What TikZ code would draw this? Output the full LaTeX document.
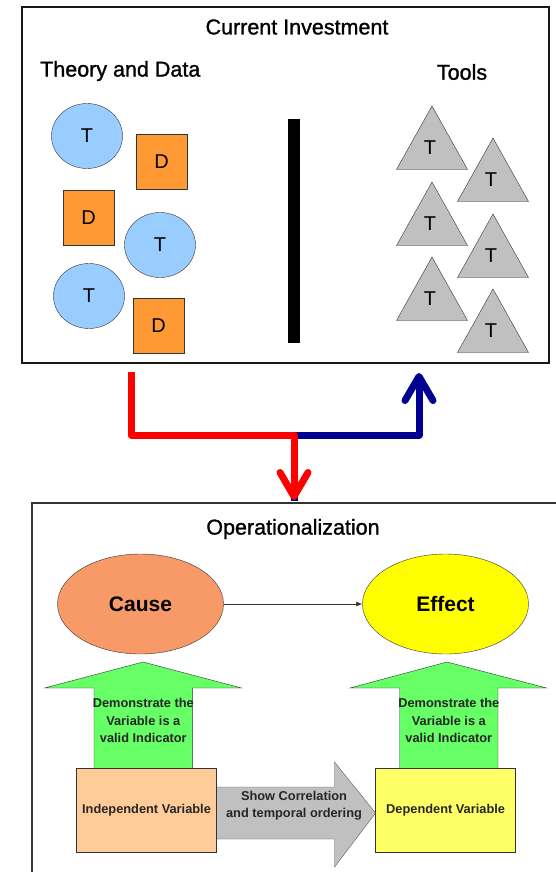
\documentclass[tikz,border=0pt]{standalone}
\usepackage{fontspec}
\setmainfont{Liberation Sans}
\newfontfamily\headfont[FakeBold=1.2]{Liberation Sans}
\usetikzlibrary{arrows.meta,shapes.geometric}
\definecolor{tblue}{HTML}{99CCFF}
\definecolor{dorange}{HTML}{FF9933}
\definecolor{trigray}{HTML}{C0C0C0}
\definecolor{causec}{HTML}{F79A68}
\definecolor{effectc}{HTML}{FFFF00}
\definecolor{greenar}{HTML}{66FF66}
\definecolor{ivc}{HTML}{FFCC99}
\definecolor{dvc}{HTML}{FFFF66}
\definecolor{navyb}{HTML}{000090}
\definecolor{edgec}{HTML}{333333}
\begin{document}
\begin{tikzpicture}[x=1pt,y=-1pt,
  bigtxt/.style={font=\headfont\fontsize{21.5}{24}\selectfont, inner sep=0pt},
  tcirc/.style={ellipse, draw=edgec, fill=tblue, minimum width=71pt, minimum height=65pt, inner sep=0pt, font=\fontsize{20}{24}\selectfont},
  dsq/.style={rectangle, draw=edgec, fill=dorange, minimum width=51pt, minimum height=55pt, inner sep=0pt, font=\fontsize{20}{24}\selectfont},
  trishape/.style={draw=edgec, fill=trigray},
  trilab/.style={font=\fontsize{20}{24}\selectfont, inner sep=0pt},
  bigline/.style={line width=7pt, line join=round, -{Straight Barb[length=24pt,width=28pt,round]}},
  oval/.style={ellipse, draw=edgec, minimum width=166pt, minimum height=100pt, inner sep=0pt, font=\bfseries\fontsize{21}{24}\selectfont},
  smalltxt/.style={font=\bfseries\fontsize{12.8}{17.5}\selectfont, align=center, inner sep=0pt, text=black!85},
  varbox/.style={rectangle, draw=edgec, minimum width=140pt, minimum height=84pt, inner sep=0pt, font=\bfseries\fontsize{12.8}{17.5}\selectfont, text=black!85}
]
\useasboundingbox (0,0) rectangle (556,872);

% ---------- top panel ----------
\node[draw=black!90, line width=1.2pt, minimum width=527pt, minimum height=356pt, inner sep=0pt] (top) at (285.5,185) {};
\node[bigtxt] (ttl) at (297,27) {Current Investment};
\node[bigtxt, anchor=west] (thd) at (40,71) {Theory and Data};
\node[bigtxt] (tools) at (462,72) {Tools};

\node[tcirc] (c1) at (87,136) {T};
\node[tcirc] (c2) at (160,245) {T};
\node[tcirc] (c3) at (89,296) {T};
\node[dsq] (s1) at (161.5,161.5) {D};
\node[dsq] (s2) at (88.5,218) {D};
\node[dsq] (s3) at (158.5,326) {D};

\fill[black] (288,119) rectangle (300,343);

\foreach \ax/\ay/\nm in {432/106/a, 493/138/b, 432/182/c, 493/214/d, 432/257/e, 493/289/f}{
  \draw[trishape] (\ax,\ay) -- ++(35.5,63.5) -- ++(-71,0) -- cycle;
  \node[trilab] (tl\nm) at (\ax-2,\ay+42) {T};
}

% ---------- connectors ----------
\coordinate (rA) at (131,372);
\coordinate (jn) at (294,435);
\coordinate (rB) at (294,500);
\coordinate (bS) at (294,501);
\coordinate (bE) at (419,373);
\draw[navyb, line width=7pt, line join=round] (bS) -- (jn);
\draw[navyb, bigline] (jn) -| (bE);
\draw[red, bigline] (rA) |- (jn) -- (rB);

% ---------- bottom panel ----------
\draw[edgec, line width=1.3pt] (560,503) -- (32,503) -- (32,876);
\node[bigtxt] (op) at (293,529) {Operationalization};

\node[oval, fill=causec] (cause) at (140.5,604) {Cause};
\node[oval, fill=effectc] (effect) at (445.5,604) {Effect};
\draw[edgec, line width=0.8pt, -{Latex[length=6pt,width=5pt]}] (cause) -- (effect);

% green arrows
\draw[edgec, fill=greenar, line join=miter] (94,770) -- (94,688) -- (44.6,688) -- (143,662) -- (241.5,688) -- (192.6,688) -- (192.6,770);
\draw[edgec, fill=greenar, line join=miter] (399.5,770) -- (399.5,688) -- (350,688) -- (447,662) -- (546.5,688) -- (498,688) -- (498,770);
\node[smalltxt] (g1) at (143.3,720.5) {Demonstrate the\\Variable is a\\valid Indicator};
\node[smalltxt] (g2) at (448.8,720.5) {Demonstrate the\\Variable is a\\valid Indicator};

% gray arrow
\draw[edgec!80, fill=trigray] (214,787) -- (334.5,787) -- (334.5,762) -- (375.6,813) -- (334.5,867) -- (334.5,839) -- (214,839);
\node[smalltxt] (corr) at (294,805.5) {Show Correlation\\and temporal ordering};

\node[varbox, fill=ivc] (iv) at (146.5,810) {Independent Variable};
\node[varbox, fill=dvc] (dv) at (445.6,810) {Dependent Variable};
\end{tikzpicture}
\end{document}
